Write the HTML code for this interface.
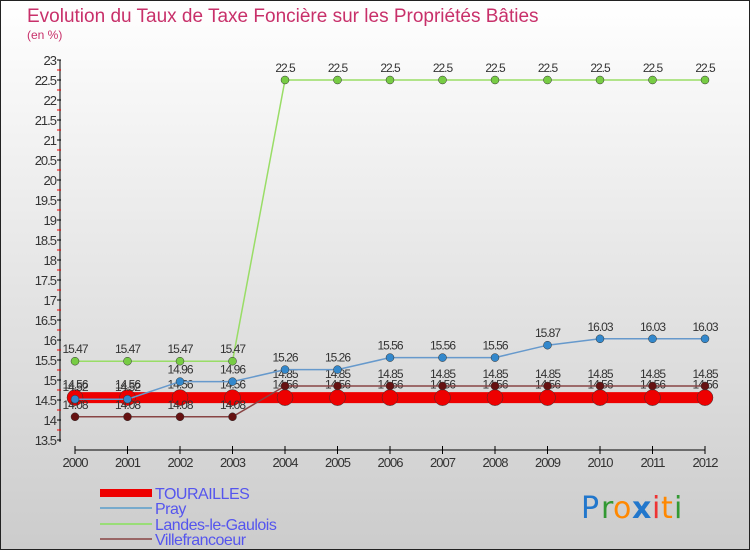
<!DOCTYPE html>
<html><head><meta charset="utf-8"><style>
body{margin:0}
#c{width:750px;height:550px;position:relative;overflow:hidden;font-family:"Liberation Sans",sans-serif}
</style></head><body>
<div id="c">
<svg id="s" width="750" height="550" xmlns="http://www.w3.org/2000/svg">
<defs><linearGradient id="bg" x1="0" y1="0" x2="0" y2="1"><stop offset="0" stop-color="#ffffff"/><stop offset="1" stop-color="#cccccc"/></linearGradient></defs>
<rect x="0.5" y="0.5" width="749" height="549" fill="url(#bg)" stroke="#222"/>
<text x="27" y="22" font-size="19" fill="#c8306a">Evolution du Taux de Taxe Foncière sur les Propriétés Bâties</text>
<text x="27" y="39" font-size="12" fill="#c8306a">(en %)</text>
<g id="axes"></g><g id="series"></g>
<g>
<rect x="100" y="489" width="52" height="8" fill="#ee0000"/>
<text x="155" y="499" font-size="16" fill="#5555ee" letter-spacing="-0.5">TOURAILLES</text>
<line x1="100" y1="508" x2="152" y2="508" stroke="#77aacc" stroke-width="2"/>
<text x="155" y="514" font-size="16" fill="#5555ee" letter-spacing="-0.5">Pray</text>
<line x1="100" y1="524" x2="152" y2="524" stroke="#99dd77" stroke-width="2"/>
<text x="155" y="530" font-size="16" fill="#5555ee" letter-spacing="-0.5">Landes-le-Gaulois</text>
<line x1="100" y1="539" x2="152" y2="539" stroke="#996666" stroke-width="2"/>
<text x="155" y="545" font-size="16" fill="#5555ee" letter-spacing="-0.5">Villefrancoeur</text>
</g>
<g font-size="30" font-family="'DejaVu Sans',sans-serif">
<text x="581" y="518" fill="#2277cc">P</text><text x="601" y="518" fill="#339933">r</text><text x="613" y="518" fill="#ff8800">o</text><text x="632" y="518" fill="#2277cc" font-weight="bold">x</text><text x="652" y="518" fill="#ee3333">i</text><text x="661" y="518" fill="#ff8800">t</text><text x="674" y="518" fill="#339933">i</text>
</g>
</svg></div>
<script>
const years=[2000,2001,2002,2003,2004,2005,2006,2007,2008,2009,2010,2011,2012];
const tourailles=[14.56,14.56,14.56,14.56,14.56,14.56,14.56,14.56,14.56,14.56,14.56,14.56,14.56];
const pray=[14.52,14.52,14.96,14.96,15.26,15.26,15.56,15.56,15.56,15.87,16.03,16.03,16.03];
const landes=[15.47,15.47,15.47,15.47,22.5,22.5,22.5,22.5,22.5,22.5,22.5,22.5,22.5];
const ville=[14.08,14.08,14.08,14.08,14.85,14.85,14.85,14.85,14.85,14.85,14.85,14.85,14.85];
const yTicks=[13.5,14,14.5,15,15.5,16,16.5,17,17.5,18,18.5,19,19.5,20,20.5,21,21.5,22,22.5,23];
const NS="http://www.w3.org/2000/svg";
const xs=i=>75+i*52.5;
const ys=v=>60+(23-v)*40;
function mk(tag,attrs,parent){const e=document.createElementNS(NS,tag);for(const k in attrs)e.setAttribute(k,attrs[k]);parent.appendChild(e);return e;}
const ax=document.getElementById('axes');
let a=mk('line',{x1:60,y1:60,x2:60,y2:442,stroke:'#000'},ax);


yTicks.forEach((v,k)=>{
 const y=ys(v);
 mk('line',{x1:57,y1:y,x2:61,y2:y,stroke:'#000'},ax);
 if(k>0) mk('line',{x1:57,y1:y+10,x2:61,y2:y+10,stroke:'#ee0000'},ax);
 const t=mk('text',{x:56,y:y+5,'font-size':13,'text-anchor':'end',fill:'#333','letter-spacing':'-1'},ax);
 t.textContent=v;
 
 
});
let b=mk('line',{x1:75,y1:450,x2:705,y2:450,stroke:'#000'},ax);


years.forEach((yr,i)=>{
 mk('line',{x1:xs(i),y1:446,x2:xs(i),y2:454,stroke:'#000'},ax);
 const t=mk('text',{x:xs(i),y:467,'font-size':13,'text-anchor':'middle',fill:'#333','letter-spacing':'-1'},ax);
 t.textContent=yr;
 
 
});
const sg=document.getElementById('series');
function series(vals,name,color,dot,lw,r,labelOff){
 const g=mk('g',{},sg);
 
 
 const pl=mk('polyline',{points:vals.map((v,i)=>xs(i)+','+ys(v)).join(' '),fill:'none',stroke:color,'stroke-width':lw},g);
 
 
 vals.forEach((v,i)=>{
  const c=mk('circle',{cx:xs(i),cy:ys(v),r:r,fill:dot,stroke:'#333','stroke-width':0.5},g);
  
  
  const t=mk('text',{x:xs(i),y:ys(v)+labelOff,'font-size':12,'text-anchor':'middle',fill:'#333','letter-spacing':'-1'},g);
  t.textContent=v;
  
  
 });
}
series(tourailles,'tourailles','#ee0000','#ee0000',11,8,-9);
series(ville,'villefrancoeur','#884444','#661111',1.5,4,-8);
series(pray,'pray','#6699cc','#3388cc',1.5,4,-8);
series(landes,'landes-le-gaulois','#99dd66','#77cc44',1.5,4,-8);
</script>
</body></html>
